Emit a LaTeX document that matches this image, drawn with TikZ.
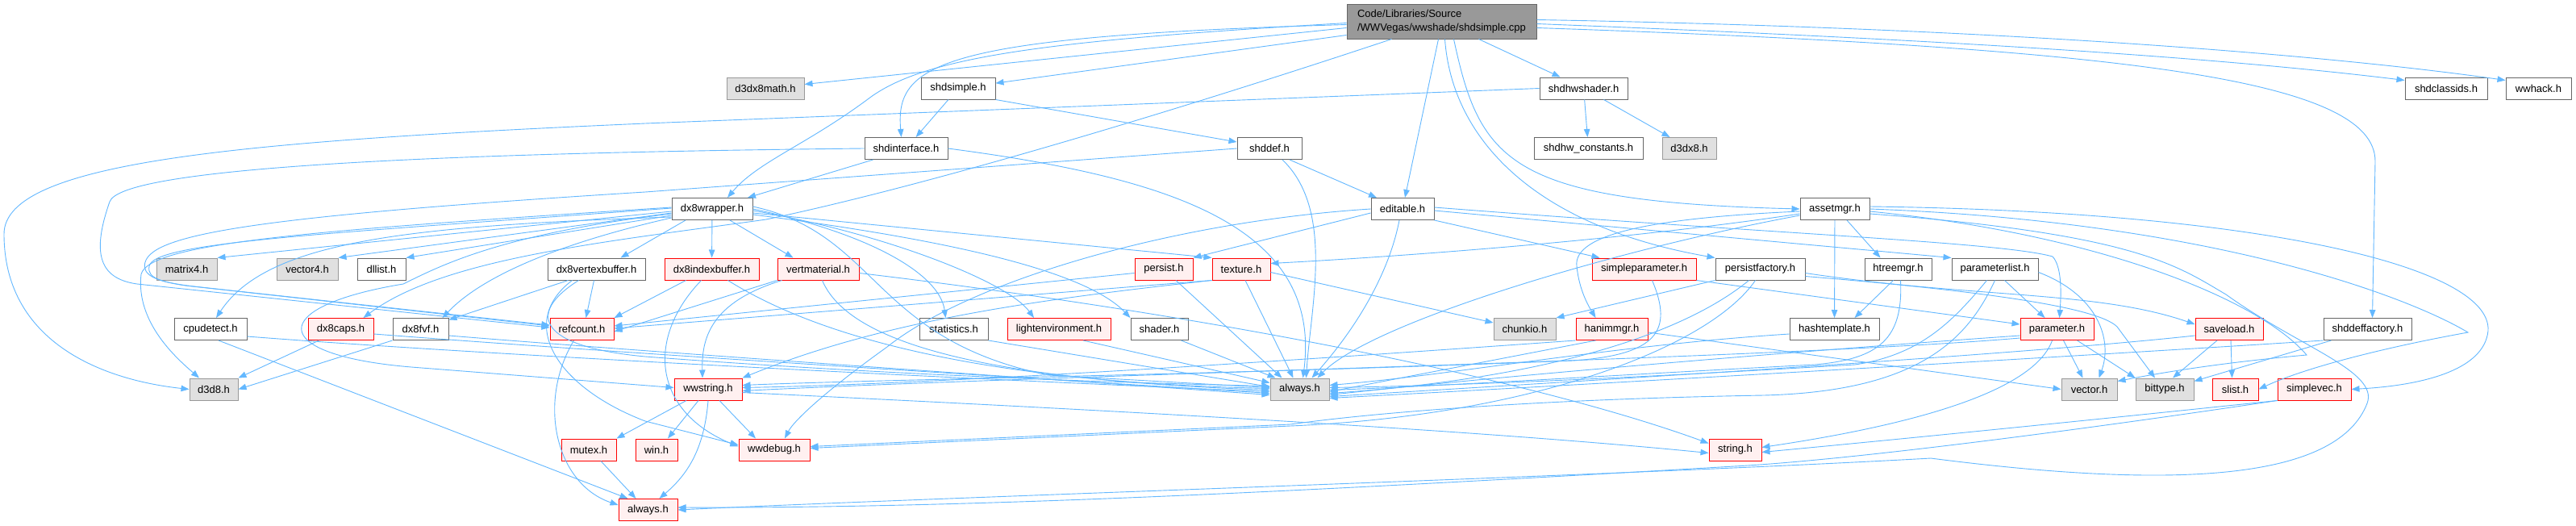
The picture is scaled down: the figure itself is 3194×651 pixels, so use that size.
\documentclass[tikz,border=0pt]{standalone}
\usepackage{fontspec}
\setmainfont{Liberation Sans}
\usetikzlibrary{arrows.meta}
\definecolor{edgec}{HTML}{63B8FF}
\definecolor{bordergray}{HTML}{666666}
\definecolor{lgray}{HTML}{999999}
\definecolor{gfill}{HTML}{E0E0E0}
\definecolor{rfill}{HTML}{FFF0F0}
\definecolor{rootfill}{HTML}{999999}
\begin{document}
\begin{tikzpicture}[x=1pt,y=1pt,
 box/.style={draw=bordergray, fill=white, line width=1pt, minimum height=27pt, inner sep=0pt, font=\fontsize{13}{16}\selectfont},
 gbox/.style={box, draw=lgray, fill=gfill},
 rbox/.style={box, draw=red, fill=rfill},
 rootbox/.style={box, fill=rootfill, minimum height=43pt, align=left, font=\fontsize{13}{17}\selectfont},
 e/.style={draw=edgec, line width=0.9pt, -{Triangle[length=10pt,width=7.5pt]}}
]
\useasboundingbox (0,0) rectangle (3194,-651);
\fill[white] (0,0) rectangle (3194,-651);

% ---------------- nodes ----------------
\node[rootbox, minimum width=235pt] (R) at (1787.5,-26.5) {Code/Libraries/Source\\/WWVegas/wwshade/shdsimple.cpp};
% row 1
\node[gbox, minimum width=96pt] (d3dx8math) at (949,-109.5) {d3dx8math.h};
\node[box, minimum width=92pt] (shdsimple) at (1188,-109.5) {shdsimple.h};
\node[box, minimum width=109pt] (shdhwshader) at (1963.5,-109.5) {shdhwshader.h};
\node[box, minimum width=102pt] (shdclassids) at (3033,-109.5) {shdclassids.h};
\node[box, minimum width=81pt] (wwhack) at (3147.5,-109.5) {wwhack.h};
% row 2
\node[box, minimum width=103pt] (shdinterface) at (1123.5,-184) {shdinterface.h};
\node[box, minimum width=80pt] (shddef) at (1574,-184) {shddef.h};
\node[box, minimum width=135pt] (shdhwconst) at (1969.5,-184) {shdhw\_constants.h};
\node[gbox, minimum width=67pt] (d3dx8) at (2094.5,-184) {d3dx8.h};
% row 3
\node[box, minimum width=100pt] (dx8wrapper) at (883,-259) {dx8wrapper.h};
\node[box, minimum width=78pt] (editable) at (1739,-259) {editable.h};
\node[box, minimum width=86pt] (assetmgr) at (2275,-259) {assetmgr.h};
% row 4
\node[gbox, minimum width=75pt] (matrix4) at (231.5,-333.5) {matrix4.h};
\node[gbox, minimum width=76pt] (vector4) at (381,-333.5) {vector4.h};
\node[box, minimum width=60pt] (dllist) at (473,-333.5) {dllist.h};
\node[box, minimum width=121pt] (dx8vb) at (739.5,-333.5) {dx8vertexbuffer.h};
\node[rbox, minimum width=117pt] (dx8ib) at (882.5,-333.5) {dx8indexbuffer.h};
\node[rbox, minimum width=101pt] (vertmat) at (1014.5,-333.5) {vertmaterial.h};
\node[rbox, minimum width=72pt] (persist) at (1443,-333.5) {persist.h};
\node[rbox, minimum width=72pt] (texture) at (1539,-333.5) {texture.h};
\node[rbox, minimum width=129pt] (simpleparam) at (2038.5,-333.5) {simpleparameter.h};
\node[box, minimum width=111pt] (persistfac) at (2182.5,-333.5) {persistfactory.h};
\node[box, minimum width=83pt] (htreemgr) at (2353.5,-333.5) {htreemgr.h};
\node[box, minimum width=107pt] (paramlist) at (2473.5,-333.5) {parameterlist.h};
% row 5
\node[box, minimum width=90pt] (cpudetect) at (261,-408) {cpudetect.h};
\node[rbox, minimum width=81pt] (dx8caps) at (422.5,-408) {dx8caps.h};
\node[box, minimum width=69pt] (dx8fvf) at (521.5,-408) {dx8fvf.h};
\node[rbox, minimum width=79pt] (refcount) at (721.5,-408) {refcount.h};
\node[box, minimum width=85pt] (statistics) at (1182.5,-408) {statistics.h};
\node[rbox, minimum width=128pt] (lightenv) at (1313,-408) {lightenvironment.h};
\node[box, minimum width=71pt] (shader) at (1437.5,-408) {shader.h};
\node[gbox, minimum width=77pt] (chunkio) at (1890.5,-408) {chunkio.h};
\node[rbox, minimum width=89pt] (hanimmgr) at (1998.5,-408) {hanimmgr.h};
\node[box, minimum width=111pt] (hashtemplate) at (2274.5,-408) {hashtemplate.h};
\node[rbox, minimum width=91pt] (parameter) at (2550.5,-408) {parameter.h};
\node[rbox, minimum width=84pt] (saveload) at (2764,-408) {saveload.h};
\node[box, minimum width=109pt] (shddeffac) at (2935.5,-408) {shddeffactory.h};
% row 6
\node[gbox, minimum width=60pt] (d3d8) at (265,-482.5) {d3d8.h};
\node[rbox, minimum width=84pt] (wwstring) at (878,-482.5) {wwstring.h};
\node[gbox, minimum width=73pt] (always) at (1611.5,-482.5) {always.h};
\node[gbox, minimum width=69pt] (vector) at (2590.5,-482.5) {vector.h};
\node[gbox, minimum width=72pt] (bittype) at (2684,-482.5) {bittype.h};
\node[rbox, minimum width=57pt] (slist) at (2771.5,-482.5) {slist.h};
\node[rbox, minimum width=91pt] (simplevec) at (2869.5,-482.5) {simplevec.h};
% row 7
\node[rbox, minimum width=68pt] (mutex) at (730,-557.5) {mutex.h};
\node[rbox, minimum width=52pt] (win) at (814,-557.5) {win.h};
\node[rbox, minimum width=88pt] (wwdebug) at (960,-557.5) {wwdebug.h};
\node[rbox, minimum width=65pt] (string) at (2151.5,-557.5) {string.h};
% row 8
\node[rbox, minimum width=73pt] (always2) at (803.5,-632) {always.h};

% ---------------- edges ----------------
% root
\draw[e] ([yshift=-8pt]R.west) -- (d3dx8math);
\draw[e] ([yshift=-17pt]R.west) -- (shdsimple);
\draw[e] ([yshift=-4pt]R.west) .. controls (1160,-45) and (1110,-80) .. ([xshift=-6pt]shdinterface.north);
\draw[e] ([yshift=-2pt]R.west) .. controls (1300,-50) and (1150,-70) .. (1080,-120) .. controls (1000,-180) and (940,-200) .. ([xshift=19pt]dx8wrapper.north);
\draw[e] ([xshift=-62pt]R.south) .. controls (1450,-140) and (1150,-230) .. (950,-272) .. controls (750,-300) and (550,-320) .. ([xshift=28pt]dx8caps.north);
\draw[e] ([xshift=46pt]R.south) -- ([xshift=-29pt]shdhwshader.north);
\draw[e] ([xshift=-4pt]R.south) -- ([xshift=3pt]editable.north);
\draw[e] ([xshift=4pt]R.south) .. controls (1800,-170) and (1900,-280) .. (persistfac.north west);
\draw[e] ([xshift=15pt]R.south) .. controls (1835,-200) and (1870,-250) .. (assetmgr.west);
\draw[e] ([yshift=-3pt]R.east) .. controls (2300,-45) and (2700,-65) .. ([yshift=10pt]shdclassids.west);
\draw[e] ([yshift=2pt]R.east) .. controls (2500,-35) and (2900,-70) .. ([yshift=10pt]wwhack.west);
\draw[e] ([yshift=-8pt]R.east) .. controls (2650,-60) and (2945,-100) .. (2945,-200) -- ([xshift=6pt]shddeffac.north);

% shdsimple
\draw[e] (shdsimple) -- (shdinterface);
\draw[e] (shdsimple.south east) -- ([yshift=8pt]shddef.west);

% shdhwshader
\draw[e] (shdhwshader) -- (shdhwconst);
\draw[e] ([xshift=25pt]shdhwshader.south) -- ([xshift=-24pt]d3dx8.north);
\draw[e] (shdhwshader.west) -- (800,-153) .. controls (300,-175) and (5,-200) .. (5,-290) .. controls (5,-420) and (120,-470) .. (d3d8.west);

% shdinterface
\draw[e] ([xshift=-41pt]shdinterface.south) -- ([xshift=44pt]dx8wrapper.north);
\draw[e] (shdinterface.west) .. controls (500,-190) and (150,-210) .. (136,-250) .. controls (115,-310) and (120,-345) .. (170,-352) -- ([yshift=2pt]refcount.west);
\draw[e] (shdinterface.east) .. controls (1450,-220) and (1640,-280) .. ([xshift=4pt]always.north);

% shddef
\draw[e] ([xshift=25pt]shddef.south) -- ([xshift=-32pt]editable.north);
\draw[e] ([xshift=16pt]shddef.south) .. controls (1655,-260) and (1625,-380) .. ([xshift=8pt]always.north);
\draw[e] (shddef.west) -- (800,-238) .. controls (320,-268) and (190,-290) .. (180,-325) .. controls (176,-340) and (190,-348) .. (230,-354) -- ([yshift=4pt]refcount.west);

% dx8wrapper
\draw[e] ([yshift=-3pt]dx8wrapper.west) -- (matrix4.north east);
\draw[e] ([yshift=-5pt]dx8wrapper.west) -- (vector4.north east);
\draw[e] ([yshift=-8pt]dx8wrapper.west) -- (dllist.north east);
\draw[e] ([xshift=-33pt]dx8wrapper.south) -- ([xshift=30pt]dx8vb.north);
\draw[e] (dx8wrapper) -- (dx8ib);
\draw[e] ([xshift=22pt]dx8wrapper.south) -- ([xshift=-31pt]vertmat.north);
\draw[e] ([yshift=-5pt]dx8wrapper.east) -- (texture.north west);
\draw[e] (dx8wrapper.east) .. controls (1080,-290) and (1165,-340) .. ([xshift=-10pt]statistics.north);
\draw[e] ([yshift=-2pt]dx8wrapper.east) .. controls (1100,-290) and (1250,-350) .. ([xshift=-31pt]lightenv.north);
\draw[e] ([yshift=-7pt]dx8wrapper.east) .. controls (1200,-300) and (1350,-340) .. (shader.north west);
\draw[e] ([yshift=-10pt]dx8wrapper.west) .. controls (500,-280) and (330,-300) .. ([xshift=7pt]cpudetect.north);
\draw[e] ([yshift=2pt]dx8wrapper.west) .. controls (400,-285) and (185,-300) .. (175,-340) .. controls (168,-400) and (220,-445) .. ([xshift=-18pt]d3d8.north);
\draw[e] ([yshift=1pt]dx8wrapper.west) .. controls (400,-290) and (190,-300) .. (185,-330) .. controls (182,-345) and (200,-350) .. (240,-355) -- ([yshift=5pt]refcount.west);
\draw[e] ([yshift=-11pt]dx8wrapper.west) .. controls (700,-300) and (600,-340) .. ([xshift=-8pt]dx8fvf.north east);
\draw[e] ([yshift=-6pt]dx8wrapper.west) .. controls (620,-290) and (545,-330) .. (500,-352) .. controls (330,-380) and (330,-440) .. (510,-455) -- ([yshift=2pt]wwstring.west);
\draw[e] ([yshift=3pt]dx8wrapper.east) .. controls (1090,-290) and (1080,-420) .. (1300,-465) -- ([yshift=2pt]always.west);

% dx8vertexbuffer
\draw[e] ([xshift=-35pt]dx8vb.south) -- (dx8fvf);
\draw[e] ([xshift=-3pt]dx8vb.south) -- ([xshift=5pt]refcount.north);
\draw[e] ([xshift=-30pt]dx8vb.south) .. controls (640,-400) and (690,-480) .. (800,-522) -- ([yshift=6pt]wwdebug.west);
\draw[e] ([xshift=-22pt]dx8vb.south) .. controls (650,-390) and (670,-430) .. (800,-442) .. controls (1100,-465) and (1400,-475) .. ([yshift=4pt]always.west);

% dx8indexbuffer
\draw[e] ([xshift=-32pt]dx8ib.south) -- (refcount.north east);
\draw[e] ([xshift=-13pt]dx8ib.south) .. controls (800,-420) and (810,-510) .. ([yshift=4pt]wwdebug.west);
\draw[e] ([xshift=20pt]dx8ib.south) .. controls (1050,-440) and (1300,-475) .. ([yshift=1pt]always.west);

% vertmaterial
\draw[e] (vertmat.south west) -- ([yshift=-3pt]refcount.east);
\draw[e] ([xshift=-45pt]vertmat.south) .. controls (880,-375) and (870,-420) .. ([xshift=-7pt]wwstring.north);
\draw[e] ([xshift=5pt]vertmat.south) .. controls (1050,-420) and (1200,-470) .. ([yshift=-1pt]always.west);
\draw[e] ([yshift=-5pt]vertmat.east) .. controls (1500,-390) and (1900,-470) .. ([yshift=8pt]string.west);

% persist / texture
\draw[e] ([yshift=-5pt]persist.west) -- ([yshift=4pt]refcount.east);
\draw[e] ([xshift=15pt]persist.south) -- ([xshift=-22pt]always.north);
\draw[e] (texture.south west) -- ([yshift=1pt]refcount.east);
\draw[e] (texture.south west) .. controls (1300,-370) and (1100,-395) .. (wwstring.north east);
\draw[e] ([xshift=5pt]texture.south) -- ([xshift=-8pt]always.north);
\draw[e] ([yshift=-4pt]texture.east) -- ([yshift=8pt]chunkio.west);

% statistics, lightenvironment, shader
\draw[e] (statistics.south east) -- ([yshift=3pt]always.west);
\draw[e] ([xshift=30pt]lightenv.south) -- ([yshift=8pt]always.west);
\draw[e] ([xshift=27pt]shader.south) -- ([xshift=-30pt]always.north);

% cpudetect, dx8caps, dx8fvf
\draw[e] ([yshift=-9pt]cpudetect.east) .. controls (600,-440) and (1200,-470) .. ([yshift=-3pt]always.west);
\draw[e] ([xshift=10pt]cpudetect.south) -- ([xshift=-25pt]always2.north);
\draw[e] ([yshift=-6pt]dx8caps.east) .. controls (800,-440) and (1300,-470) .. ([yshift=-5pt]always.west);
\draw[e] ([xshift=-27pt]dx8caps.south) -- (d3d8.north east);
\draw[e] ([yshift=-8pt]dx8fvf.east) .. controls (800,-436) and (1300,-470) .. ([yshift=-7pt]always.west);
\draw[e] (dx8fvf.south west) -- (d3d8.east);

% refcount
\draw[e] ([xshift=-10pt]refcount.south) .. controls (665,-500) and (690,-600) .. ([yshift=6pt]always2.west);

% wwstring
\draw[e] ([xshift=-27pt]wwstring.south) -- (mutex.north east);
\draw[e] ([xshift=-12pt]wwstring.south) -- ([xshift=14pt]win.north);
\draw[e] ([xshift=14pt]wwstring.south) -- ([xshift=-23pt]wwdebug.north);
\draw[e] (wwstring.south) .. controls (873,-560) and (850,-590) .. ([xshift=14pt]always2.north);
\draw[e] ([yshift=-4pt]wwstring.east) .. controls (1300,-505) and (1800,-530) .. ([yshift=-4pt]string.west);
\draw[e] ([xshift=15pt]mutex.south) -- ([xshift=-15pt]always2.north);

% editable
\draw[e] ([yshift=-5pt]editable.west) -- (persist.north east);
\draw[e] ([xshift=-4pt]editable.south) .. controls (1720,-350) and (1670,-420) .. ([xshift=15pt]always.north);
\draw[e] (editable.west) .. controls (1450,-275) and (1200,-350) .. (1100,-430) .. controls (1030,-480) and (985,-520) .. ([xshift=13pt]wwdebug.north);
\draw[e] (editable.south east) -- ([xshift=-55pt]simpleparam.north);
\draw[e] ([yshift=-2pt]editable.east) -- (paramlist.north west);
\draw[e] ([yshift=2pt]editable.east) .. controls (2200,-290) and (2480,-300) .. (2545,-318) .. controls (2556,-330) and (2556,-360) .. ([xshift=3pt]parameter.north);

% simpleparameter
\draw[e] (simpleparam.south east) -- ([yshift=6pt]parameter.west);
\draw[e] ([xshift=10pt]simpleparam.south) .. controls (2075,-410) and (2055,-440) .. (1950,-447) .. controls (1500,-465) and (1100,-470) .. ([yshift=5pt]wwstring.east);

% hanimmgr
\draw[e] (hanimmgr.south west) .. controls (1700,-440) and (1200,-475) .. ([yshift=2pt]wwstring.east);
\draw[e] ([yshift=-4pt]hanimmgr.east) -- (vector.west);
\draw[e] ([xshift=-20pt]hanimmgr.south) -- ([yshift=-3pt]always.east);

% assetmgr
\draw[e] ([yshift=-3pt]assetmgr.west) .. controls (2050,-270) and (1950,-290) .. (1955,-330) .. controls (1958,-360) and (1970,-380) .. ([xshift=-20pt]hanimmgr.north);
\draw[e] ([yshift=-6pt]assetmgr.west) .. controls (2000,-300) and (1700,-320) .. ([yshift=7pt]texture.east);
\draw[e] ([yshift=-8pt]assetmgr.west) .. controls (2000,-310) and (1700,-400) .. ([xshift=22pt]always.north);
\draw[e] ([xshift=15pt]assetmgr.south) -- ([xshift=-22pt]htreemgr.north);
\draw[e] (assetmgr) -- (hashtemplate);
\draw[e] ([yshift=3pt]assetmgr.east) .. controls (2800,-262) and (3090,-330) .. (3085,-410) .. controls (3080,-460) and (3000,-478) .. (simplevec.east);
\draw[e] (assetmgr.east) .. controls (2750,-275) and (2990,-370) .. (3060,-412) .. controls (2960,-430) and (2860,-455) .. (slist.east);
\draw[e] ([yshift=-3pt]assetmgr.east) .. controls (2600,-290) and (2800,-370) .. (2860,-440) .. controls (2750,-450) and (2680,-462) .. ([yshift=10pt]vector.east);
\draw[e] ([yshift=-6pt]assetmgr.east) .. controls (2650,-290) and (2700,-330) .. (2760,-365) .. controls (2850,-430) and (2950,-460) .. (2935,-500) .. controls (2900,-590) and (2720,-610) .. (2394,-568) .. controls (2000,-590) and (1200,-615) .. (always2.east);

% htreemgr
\draw[e] ([xshift=-6pt]htreemgr.south) -- ([xshift=25pt]hashtemplate.north);
\draw[e] ([xshift=3pt]htreemgr.south) .. controls (2360,-420) and (2330,-445) .. (2250,-452) .. controls (2000,-465) and (1800,-478) .. ([yshift=-1pt]always.east);

% hashtemplate
\draw[e] ([yshift=-6pt]hashtemplate.west) .. controls (2000,-428) and (1800,-465) .. ([yshift=5pt]always.east);

% parameterlist
\draw[e] ([xshift=12pt]paramlist.south) -- ([xshift=-15pt]parameter.north);
\draw[e] ([yshift=-4pt]paramlist.east) .. controls (2600,-365) and (2620,-420) .. ([xshift=12pt]vector.north);
\draw[e] ([xshift=-10pt]paramlist.south) .. controls (2420,-400) and (2380,-440) .. (2300,-452) .. controls (2000,-470) and (1800,-478) .. ([yshift=2pt]always.east);
\draw[e] (paramlist.south) .. controls (2440,-420) and (2380,-485) .. (2187,-490) .. controls (1900,-495) and (1700,-512) .. (1600,-526) -- ([yshift=4pt]wwdebug.east);

% persistfactory
\draw[e] ([xshift=-6pt]persistfac.south) .. controls (2120,-430) and (1900,-515) .. (1600,-528) -- ([yshift=2pt]wwdebug.east);
\draw[e] ([xshift=-14pt]persistfac.south) .. controls (2080,-420) and (1900,-470) .. ([yshift=-5pt]always.east);
\draw[e] (persistfac.south west) -- (chunkio.north east);
\draw[e] ([yshift=-5pt]persistfac.east) .. controls (2450,-370) and (2600,-360) .. ([yshift=6pt]saveload.west);
\draw[e] ([yshift=-9pt]persistfac.east) .. controls (2450,-360) and (2600,-380) .. (2625,-405) -- ([xshift=-12pt]bittype.north);

% parameter
\draw[e] ([xshift=8pt]parameter.south) -- ([xshift=-8pt]vector.north);
\draw[e] ([xshift=25pt]parameter.south) -- (bittype.north west);
\draw[e] ([xshift=-6pt]parameter.south) .. controls (2520,-490) and (2350,-530) .. ([yshift=3pt]string.east);
\draw[e] ([yshift=-8pt]parameter.west) .. controls (2300,-430) and (1900,-462) .. ([yshift=-7pt]always.east);
\draw[e] ([yshift=-11pt]parameter.west) .. controls (2200,-445) and (1300,-465) .. ([yshift=-2pt]wwstring.east);

% saveload
\draw[e] ([xshift=-15pt]saveload.south) -- ([xshift=10pt]bittype.north);
\draw[e] ([xshift=2pt]saveload.south) -- ([xshift=-4pt]slist.north);
\draw[e] ([yshift=-8pt]saveload.west) .. controls (2500,-440) and (2000,-470) .. ([yshift=-9pt]always.east);

% shddeffactory
\draw[e] (shddeffac.south west) .. controls (2600,-440) and (2000,-475) .. ([yshift=-11pt]always.east);
\draw[e] ([xshift=-45pt]shddeffac.south) -- ([yshift=10pt]bittype.east);

% simplevec
\draw[e] (simplevec.south west) .. controls (2600,-530) and (2300,-570) .. (2150,-578) .. controls (1600,-610) and (1200,-630) .. ([yshift=3pt]always2.east);
\draw[e] (simplevec.south west) .. controls (2600,-520) and (2350,-545) .. ([yshift=-3pt]string.east);

\end{tikzpicture}
\end{document}
